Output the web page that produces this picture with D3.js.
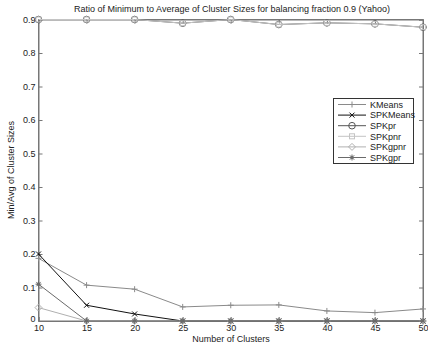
<!DOCTYPE html>
<html><head><meta charset="utf-8">
<script src="https://cdn.jsdelivr.net/npm/d3@7"></script>
<style>body{margin:0;background:#fff}svg{display:block;font-family:"Liberation Sans",Arial,sans-serif}</style>
</head><body><svg id="c" width="428" height="346"></svg>
<script>
const clusters = [10,15,20,25,30,35,40,45,50];
const kmeans   = [0.187,0.107,0.095,0.042,0.047,0.048,0.030,0.025,0.036];
const spkmeans = [0.200,0.047,0.021,0,0,0,0,0,0];
const spkpr    = [0.900,0.900,0.900,0.889,0.900,0.885,0.890,0.887,0.877];
const spkpnr   = [0.900,0.900,0.900,0.889,0.900,0.885,0.890,0.887,0.877];
const spkgpnr  = [0.040,0,0,0,0,0,0,0,0];
const spkgpr   = [0.110,0,0,0,0,0,0,0,0];
const yTicks = [0,0.1,0.2,0.3,0.4,0.5,0.6,0.7,0.8,0.9];
const xTicks = [10,15,20,25,30,35,40,45,50];

const series = [
  {name:"KMeans", values:kmeans, color:"#8a8a8a", marker:"plus"},
  {name:"SPKMeans", values:spkmeans, color:"#111", marker:"x"},
  {name:"SPKpr", values:spkpr, color:"#555", marker:"circle"},
  {name:"SPKpnr", values:spkpnr, color:"#c4c4c4", marker:"square"},
  {name:"SPKgpnr", values:spkgpnr, color:"#b0b0b0", marker:"diamond"},
  {name:"SPKgpr", values:spkgpr, color:"#6a6a6a", marker:"star"}
];

const FS = "9px";
const svg = d3.select("#c");
const L=38.5, R=423, T=19.5, B=321;
const x = d3.scaleLinear().domain([10,50]).range([L,R]);
const y = d3.scaleLinear().domain([0,0.9]).range([B,T]);

const ax = d3.axisBottom(x).tickValues(xTicks).tickSize(-4).tickPadding(4).tickFormat(d3.format("d"));
const gx = svg.append("g").attr("transform",`translate(0,${B})`).call(ax);
const gxt = svg.append("g").attr("transform",`translate(0,${T})`).call(d3.axisTop(x).tickValues(xTicks).tickSize(-4).tickFormat(""));
const ay = d3.axisLeft(y).tickValues(yTicks).tickSize(-4).tickPadding(3).tickFormat(d=>d===0?"0":d3.format(".1f")(d));
const gy = svg.append("g").attr("transform",`translate(${L},0)`).call(ay);
const gyr = svg.append("g").attr("transform",`translate(${R},0)`).call(d3.axisRight(y).tickValues(yTicks).tickSize(-4).tickFormat(""));
[gx,gxt,gy,gyr].forEach(g=>{g.selectAll("path").attr("stroke","#777");g.selectAll("line").attr("stroke","#777");
  g.selectAll("text").attr("fill","#222").style("font-size",FS);});
gy.selectAll("text").filter(d=>d===0).attr("dy","0.1em");
svg.append("rect").attr("x",L).attr("y",T).attr("width",R-L).attr("height",B-T).attr("fill","none").attr("stroke","#777");

function marker(g, type, cx, cy, color){
  const s=3;
  if(type==="plus"){g.append("path").attr("d",`M${cx-s},${cy}H${cx+s}M${cx},${cy-s}V${cy+s}`).attr("stroke",color).attr("fill","none");}
  else if(type==="x"){g.append("path").attr("d",`M${cx-2.5},${cy-2.5}L${cx+2.5},${cy+2.5}M${cx-2.5},${cy+2.5}L${cx+2.5},${cy-2.5}`).attr("stroke",color).attr("fill","none");}
  else if(type==="circle"){g.append("circle").attr("cx",cx).attr("cy",cy).attr("r",3.3).attr("stroke",color).attr("fill","none");}
  else if(type==="square"){g.append("rect").attr("x",cx-2.5).attr("y",cy-2.5).attr("width",5).attr("height",5).attr("stroke",color).attr("fill","none");}
  else if(type==="diamond"){g.append("path").attr("d",`M${cx},${cy-3.5}L${cx+3.5},${cy}L${cx},${cy+3.5}L${cx-3.5},${cy}Z`).attr("stroke",color).attr("fill","none");}
  else if(type==="star"){g.append("path").attr("d",`M${cx-3},${cy}H${cx+3}M${cx},${cy-3}V${cy+3}M${cx-2.2},${cy-2.2}L${cx+2.2},${cy+2.2}M${cx-2.2},${cy+2.2}L${cx+2.2},${cy-2.2}`).attr("stroke",color).attr("fill","none");
    g.append("circle").attr("cx",cx).attr("cy",cy).attr("r",1.6).attr("fill",color);}
}

const line = d3.line().x((d,i)=>x(clusters[i])).y(d=>y(d));
series.forEach(s=>{
  const g = svg.append("g");
  g.append("path").datum(s.values).attr("d",line).attr("fill","none").attr("stroke",s.color).attr("stroke-width",1);
  s.values.forEach((v,i)=>marker(g,s.marker,x(clusters[i]),y(v),s.color));
});

const lg = svg.append("g");
lg.append("rect").attr("x",333.5).attr("y",98.5).attr("width",80).attr("height",65).attr("fill","#fff").attr("stroke","#333");
series.forEach((s,i)=>{
  const yy = 104.5 + i*10.6;
  lg.append("line").attr("x1",338).attr("x2",366).attr("y1",yy).attr("y2",yy).attr("stroke",s.color);
  marker(lg,s.marker,352,yy,s.color);
  lg.append("text").attr("x",370).attr("y",yy+3.2).text(s.name).style("font-size",FS).attr("fill","#222");
});

svg.append("text").attr("x",232).attr("y",12).attr("text-anchor","middle").style("font-size",FS).attr("fill","#222")
  .text("Ratio of Minimum to Average of Cluster Sizes for balancing fraction 0.9 (Yahoo)");
svg.append("text").attr("x",231).attr("y",342).attr("text-anchor","middle").style("font-size",FS).attr("fill","#222")
  .text("Number of Clusters");
svg.append("text").attr("transform","translate(14,170) rotate(-90)").attr("text-anchor","middle").style("font-size",FS).attr("fill","#222")
  .text("Min/Avg of Cluster Sizes");
</script></body></html>
